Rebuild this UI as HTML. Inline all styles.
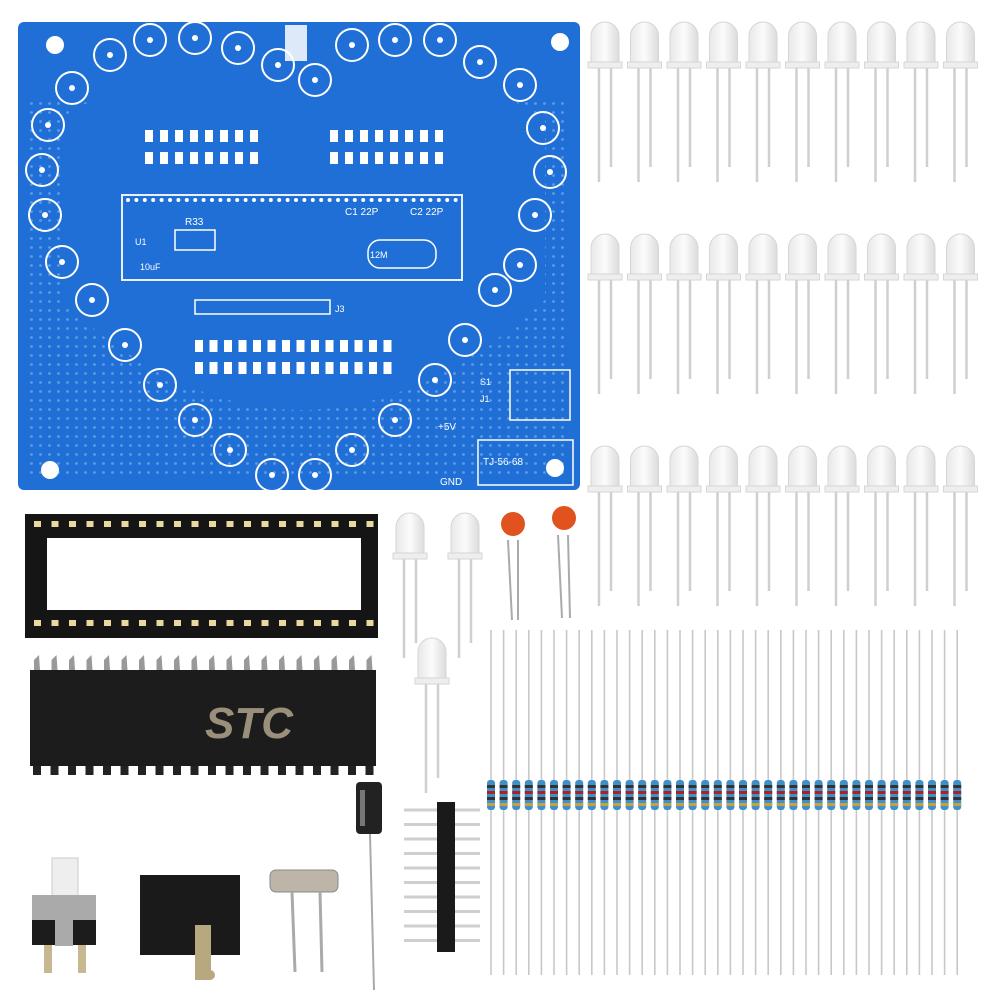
<!DOCTYPE html>
<html><head><meta charset="utf-8"><style>
html,body{margin:0;padding:0;background:#fff;width:1000px;height:1000px;overflow:hidden}
svg{display:block}
text{font-family:"Liberation Sans",sans-serif}
</style></head><body>
<svg id="s" width="1000" height="1000" viewBox="0 0 1000 1000" xmlns="http://www.w3.org/2000/svg">
<defs>
<pattern id="dots" width="9" height="9" patternUnits="userSpaceOnUse"><circle cx="4.5" cy="4.5" r="1.4" fill="#8fc0f0"/></pattern>
<linearGradient id="led" x1="0" x2="1"><stop offset="0" stop-color="#e8e8e8"/><stop offset="0.5" stop-color="#fbfbfb"/><stop offset="1" stop-color="#dcdcdc"/></linearGradient>
</defs>
<!-- PCB -->
<rect x="18" y="22" width="562" height="468" rx="6" fill="#1f6fd6"/>
<rect x="30" y="100" width="540" height="380" fill="url(#dots)" opacity="0.55"/>
<path d="M60 120 Q300 -40 545 120 L545 300 Q300 520 60 300Z" fill="#1f6fd6"/>
<rect x="122" y="195" width="340" height="85" fill="#1f6fd6" stroke="#e8f0ff" stroke-width="2"/>
<rect x="175" y="230" width="40" height="20" fill="none" stroke="#fff" stroke-width="1.5"/>
<rect x="368" y="240" width="68" height="28" rx="12" fill="none" stroke="#fff" stroke-width="1.5"/>
<rect x="195" y="300" width="135" height="14" fill="none" stroke="#fff" stroke-width="1.5"/>
<rect x="510" y="370" width="60" height="50" fill="none" stroke="#fff" stroke-width="1.5"/>
<rect x="478" y="440" width="95" height="45" fill="none" stroke="#fff" stroke-width="1.5"/>
<text x="483" y="465" fill="#fff" font-size="10">TJ-56-68</text>
<text x="438" y="430" fill="#fff" font-size="10">+5V</text>
<text x="440" y="485" fill="#fff" font-size="10">GND</text>
<text x="185" y="225" fill="#fff" font-size="10">R33</text>
<text x="345" y="215" fill="#fff" font-size="10">C1 22P</text>
<text x="410" y="215" fill="#fff" font-size="10">C2 22P</text>
<text x="370" y="258" fill="#fff" font-size="9">12M</text>
<text x="140" y="270" fill="#fff" font-size="9">10uF</text>
<text x="135" y="245" fill="#fff" font-size="9">U1</text>
<text x="335" y="312" fill="#fff" font-size="9">J3</text>
<text x="480" y="402" fill="#fff" font-size="9">J1</text>
<text x="480" y="385" fill="#fff" font-size="9">S1</text>
<rect x="285" y="25" width="22" height="36" fill="#fff" opacity="0.85"/>
<g id="g1"></g>
<!-- socket -->
<rect x="25" y="514" width="353" height="124" fill="#151515"/>
<rect x="47" y="538" width="314" height="72" fill="#fff"/>
<!-- chip -->
<rect x="30" y="670" width="346" height="96" fill="#1c1c1c"/>
<text x="205" y="738" fill="#9a8f7a" font-size="44" font-style="italic" font-family="Liberation Serif" font-weight="bold">STC</text>
<!-- elec cap -->
<rect x="356" y="782" width="26" height="52" rx="4" fill="#222"/>
<rect x="360" y="790" width="5" height="36" fill="#777"/>
<line x1="370" y1="834" x2="374" y2="990" stroke="#aaa" stroke-width="2"/>
<!-- header -->
<rect x="437" y="802" width="18" height="150" fill="#1a1a1a"/>
<!-- switch -->
<rect x="52" y="858" width="26" height="38" fill="#eee" stroke="#ccc"/>
<rect x="32" y="895" width="64" height="50" fill="#aaa"/>
<rect x="32" y="920" width="64" height="25" fill="#1c1c1c"/>
<rect x="55" y="918" width="18" height="28" fill="#aaa"/>
<rect x="44" y="945" width="8" height="28" fill="#c8b890"/><rect x="78" y="945" width="8" height="28" fill="#c8b890"/>
<!-- dc jack -->
<rect x="140" y="875" width="100" height="80" fill="#1a1a1a"/>
<rect x="195" y="925" width="16" height="55" fill="#b8a880"/>
<circle cx="210" cy="975" r="5" fill="#b8a880"/>
<!-- crystal -->
<rect x="270" y="870" width="68" height="22" rx="6" fill="#bdb6a8" stroke="#888"/>
<line x1="292" y1="892" x2="295" y2="972" stroke="#aaa" stroke-width="3"/>
<line x1="320" y1="892" x2="322" y2="972" stroke="#aaa" stroke-width="3"/>
<!-- orange caps -->
<line x1="508" y1="540" x2="512" y2="620" stroke="#aaa" stroke-width="2"/><line x1="518" y1="540" x2="518" y2="620" stroke="#aaa" stroke-width="2"/>
<line x1="558" y1="535" x2="562" y2="618" stroke="#aaa" stroke-width="2"/><line x1="568" y1="535" x2="570" y2="618" stroke="#aaa" stroke-width="2"/>
<circle cx="513" cy="524" r="12" fill="#e0521e"/><circle cx="564" cy="518" r="12" fill="#e0521e"/>
<g id="g2"></g>
</svg>
<script>
var NS="http://www.w3.org/2000/svg";
function el(p,t,a){var e=document.createElementNS(NS,t);for(var k in a)e.setAttribute(k,a[k]);p.appendChild(e);return e;}
var g1=document.getElementById('g1'),g2=document.getElementById('g2');
[[55,45],[560,42],[50,470],[555,468]].forEach(function(p){el(g1,'circle',{cx:p[0],cy:p[1],r:9,fill:'#fff'});});
var ring=[[150,40],[195,38],[238,48],[278,65],[315,80],[352,45],[395,40],[440,40],[480,62],[520,85],[543,128],[550,172],[535,215],[520,265],[495,290],[465,340],[435,380],[395,420],[352,450],[315,475],[272,475],[230,450],[195,420],[160,385],[125,345],[92,300],[62,262],[45,215],[42,170],[48,125],[72,88],[110,55]];
ring.forEach(function(p){el(g1,'circle',{cx:p[0],cy:p[1],r:16,fill:'none',stroke:'#fff','stroke-width':2});el(g1,'circle',{cx:p[0],cy:p[1],r:3,fill:'#fff'});});
function pads(x0,y0,n,step){for(var i=0;i<n;i++){el(g1,'rect',{x:x0+i*step,y:y0,width:8,height:12,fill:'#fff'});el(g1,'rect',{x:x0+i*step,y:y0+22,width:8,height:12,fill:'#fff'});}}
pads(145,130,8,15);pads(330,130,8,15);pads(195,340,14,14.5);
for(var i=0;i<40;i++){el(g1,'circle',{cx:128+i*8.4,cy:200,r:2,fill:'#fff'});}
for(var i=0;i<20;i++){var x=37+i*17.5;el(g2,'rect',{x:x-3,y:521,width:7,height:6,fill:'#e8d9a0'});el(g2,'rect',{x:x-3,y:620,width:7,height:6,fill:'#e8d9a0'});
el(g2,'path',{d:'M'+(x-3)+' 670 L'+(x-3)+' 660 L'+(x+2)+' 655 L'+(x+3)+' 670Z',fill:'#999'});el(g2,'rect',{x:x-4,y:766,width:8,height:9,fill:'#222'});}
function led(cx,top,len){el(g2,'line',{x1:cx-6,y1:top+45,x2:cx-6,y2:top+45+len,stroke:'#cfcfcf','stroke-width':2.5});el(g2,'line',{x1:cx+6,y1:top+45,x2:cx+6,y2:top+45+len-15,stroke:'#cfcfcf','stroke-width':2.5});
el(g2,'path',{d:'M'+(cx-14)+' '+(top+45)+' L'+(cx-14)+' '+(top+14)+' A14 14 0 0 1 '+(cx+14)+' '+(top+14)+' L'+(cx+14)+' '+(top+45)+'Z',fill:'url(#led)',stroke:'#d6d6d6'});
el(g2,'rect',{x:cx-17,y:top+40,width:34,height:6,fill:'#eee',stroke:'#d6d6d6'});}
for(var r=0;r<3;r++)for(var i=0;i<10;i++)led(605+i*39.5,[22,234,446][r],115);
led(410,513,100);led(465,513,100);led(432,638,110);
for(var i=0;i<38;i++){var x=491+i*12.6;el(g2,'line',{x1:x,y1:630,x2:x,y2:975,stroke:'#c8c8c8','stroke-width':1.6});
el(g2,'rect',{x:x-4,y:780,width:8,height:30,rx:3,fill:'#3f8fc8'});
['#333','#b02020','#333','#c8a040'].forEach(function(c,j){el(g2,'rect',{x:x-4,y:785+j*6,width:8,height:3,fill:c});});}
for(var i=0;i<10;i++){var y=810+i*14.5;el(g2,'line',{x1:404,y1:y,x2:480,y2:y,stroke:'#cfcfcf','stroke-width':3});el(g2,'rect',{x:437,y:y-5,width:18,height:10,fill:'#1a1a1a'});}
</script>
</body></html>
